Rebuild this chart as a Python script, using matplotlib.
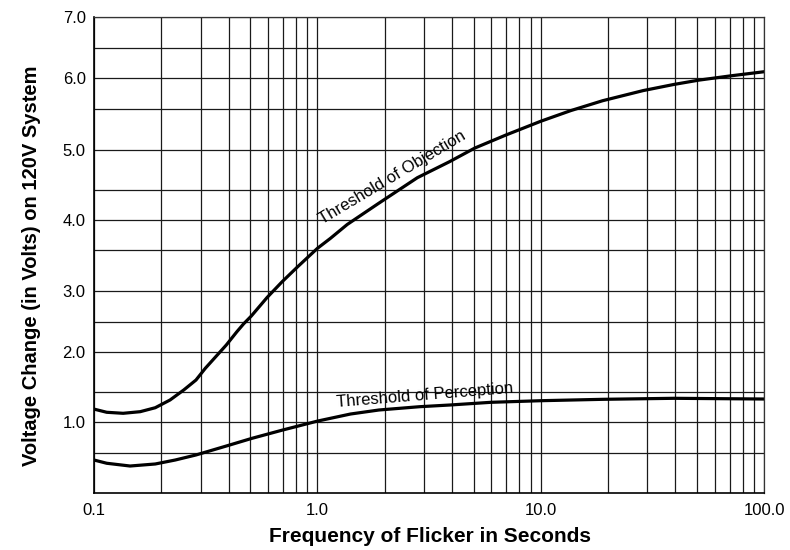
import numpy as np
import matplotlib
matplotlib.use("Agg")
import matplotlib.pyplot as plt
from matplotlib.ticker import FixedLocator, LogLocator, NullFormatter

plt.rcParams['font.family'] = ['Liberation Sans', 'DejaVu Sans']

# Threshold of objection
freq_objection = [0.1, 0.114, 0.135, 0.161, 0.188, 0.219, 0.252, 0.286, 0.315,
                  0.391, 0.436, 0.467, 0.506, 0.595, 0.695, 0.816, 1.0, 1.144,
                  1.359, 1.884, 2.8, 3.9, 5.06, 6.97, 10.0, 13.6, 18.9, 28.7,
                  39.4, 50.9, 70.4, 100.0]
volt_objection = [1.22, 1.167, 1.15, 1.177, 1.243, 1.372, 1.528, 1.651, 1.796,
                  2.112, 2.333, 2.463, 2.592, 2.89, 3.111, 3.297, 3.533, 3.70,
                  3.93, 4.28, 4.65, 4.85, 5.02, 5.18, 5.35, 5.48, 5.635, 5.80,
                  5.90, 5.97, 6.04, 6.11]

# Threshold of perception
freq_perception = [0.1, 0.114, 0.145, 0.188, 0.231, 0.286, 0.391, 0.51, 0.699,
                   1.0, 1.406, 1.884, 2.866, 3.906, 5.97, 10.0, 18.9, 39.4, 100.0]
volt_perception = [0.41, 0.37, 0.336, 0.361, 0.41, 0.472, 0.61, 0.737, 0.873,
                   1.02, 1.138, 1.205, 1.26, 1.288, 1.333, 1.36, 1.383, 1.40, 1.388]

x_ticks = [0.1, 1.0, 10.0, 100.0]
x_tick_labels = ["0.1", "1.0", "10.0", "100.0"]
y_ticks = [1, 2, 3, 4, 5, 6, 7]
y_tick_labels = ["1.0", "2.0", "3.0", "4.0", "5.0", "6.0", "7.0"]

# the printed grid is not evenly spaced, so map volts onto the drawn rows
grid_volts = np.arange(0, 7.01, 0.5)
grid_pos = np.array([0, 40.6, 71.0, 101.0, 141.6, 171.6, 202.6, 243.0,
                     273.0, 303.6, 343.6, 384.3, 415.0, 445.0, 476.0])


def fwd(v):
    return np.interp(v, grid_volts, grid_pos)


def inv(p):
    return np.interp(p, grid_pos, grid_volts)


fig = plt.figure(figsize=(7.9, 5.5), dpi=100)
ax = fig.add_axes([94 / 790, 1 - 493.3 / 550, (764.3 - 94) / 790, 476 / 550])

ax.set_xscale('log')
ax.set_yscale('function', functions=(fwd, inv))
ax.set_xlim(0.1, 100)
ax.set_ylim(0, 7)

ax.plot(freq_objection, volt_objection, color='black', lw=2.3,
        solid_joinstyle='round')
ax.plot(freq_perception, volt_perception, color='black', lw=2.3,
        solid_joinstyle='round')

# grid
ax.xaxis.set_major_locator(FixedLocator(x_ticks))
ax.xaxis.set_minor_locator(LogLocator(base=10, subs=np.arange(2, 10)))
ax.xaxis.set_minor_formatter(NullFormatter())
ax.set_xticklabels(x_tick_labels)
ax.yaxis.set_major_locator(FixedLocator(y_ticks))
ax.yaxis.set_minor_locator(FixedLocator(np.arange(0.5, 7, 1.0)))
ax.yaxis.set_minor_formatter(NullFormatter())
ax.set_yticklabels(y_tick_labels)
ax.grid(which='both', color='0.1', lw=0.9)
ax.set_axisbelow(True)

ax.tick_params(which='both', length=0)
ax.tick_params(axis='x', pad=7, labelsize=12)
ax.tick_params(axis='y', pad=6, labelsize=12)
for s in ax.spines.values():
    s.set_color('0.2')
    s.set_linewidth(0.9)
ax.spines['left'].set_color('black')
ax.spines['bottom'].set_color('black')
ax.spines['left'].set_linewidth(1.2)
ax.spines['bottom'].set_linewidth(1.2)

# curve labels
ax.text(1.05, 3.928, "Threshold of Objection", fontsize=12, rotation=30.8,
        rotation_mode='anchor', ha='left', va='baseline')
ax.text(1.225, 1.26, "Threshold of Perception", fontsize=12, rotation=4.6,
        rotation_mode='anchor', ha='left', va='baseline')

fig.text(430 / 790, 1 - 536 / 550, "Frequency of Flicker in Seconds",
         fontsize=15, fontweight='bold', ha='center', va='center')
fig.text(32 / 790, 1 - 266 / 550, "Voltage Change (in Volts) on 120V System",
         fontsize=14.5, fontweight='bold', ha='center', va='center', rotation=90)

fig.savefig("out.png", dpi=100)
